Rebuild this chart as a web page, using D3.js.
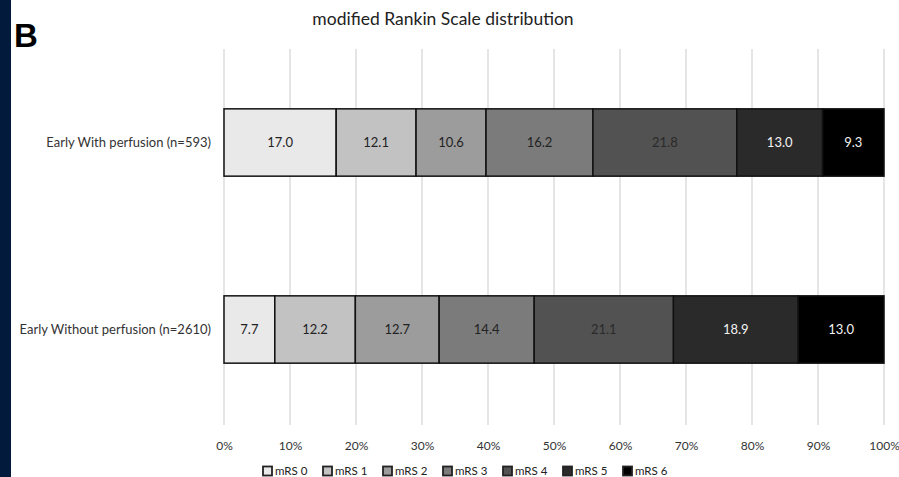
<!DOCTYPE html>
<html><head><meta charset="utf-8">
<script src="https://cdn.jsdelivr.net/npm/d3@7/dist/d3.min.js"></script>
<style>body{margin:0;background:#fff;} svg{display:block;font-family:Lato,"Open Sans",sans-serif;}</style>
</head><body><svg id="c" width="899" height="477"></svg>
<script>
const categories = ["Early With perfusion (n=593)", "Early Without perfusion (n=2610)"];
const seriesNames = ["mRS 0","mRS 1","mRS 2","mRS 3","mRS 4","mRS 5","mRS 6"];
const withPerfusion = [17.0, 12.1, 10.6, 16.2, 21.8, 13.0, 9.3];
const withoutPerfusion = [7.7, 12.2, 12.7, 14.4, 21.1, 18.9, 13.0];
const tickValues = [0,10,20,30,40,50,60,70,80,90,100];
const fills = ["#e9e9e9","#c2c2c2","#9c9c9c","#7b7b7b","#525252","#2a2a2a","#000000"];
const labelColors = ["#222","#222","#222","#222","#2a2a2a","#f2f2f2","#f2f2f2"];

const rows = [withPerfusion, withoutPerfusion];
const svg = d3.select("#c");
svg.append("rect").attr("x",0).attr("y",0).attr("width",11).attr("height",477).attr("fill","#021a3c");
svg.append("text").attr("x",14).attr("y",47).attr("font-family","Liberation Sans, Arial, sans-serif")
  .attr("font-weight","bold").attr("font-size",33).attr("fill","#000").text("B");
svg.append("text").attr("x",443).attr("y",25).attr("text-anchor","middle").attr("font-size",17.5)
  .attr("fill","#222").text("modified Rankin Scale distribution");

const x = d3.scaleLinear().domain([0,100]).range([224,884]);
const y = d3.scaleBand().domain(categories).range([49,423]).paddingInner(0.64).paddingOuter(0.32);

// grid
svg.append("g").selectAll("line").data(tickValues).join("line")
  .attr("x1",d=>x(d)).attr("x2",d=>x(d)).attr("y1",49).attr("y2",425)
  .attr("stroke","#d4d4d4").attr("stroke-width",1.2);

// bars
rows.forEach((vals,ri)=>{
  let acc=0;
  const segs = vals.map((v,i)=>{const s={i,v,x0:acc,x1:acc+v}; acc+=v; return s;});
  const g = svg.append("g");
  const yy = y(categories[ri]), h = y.bandwidth();
  g.selectAll("rect").data(segs).join("rect")
    .attr("x",d=>x(d.x0)).attr("width",d=>x(d.x1)-x(d.x0))
    .attr("y",yy).attr("height",h).attr("fill",d=>fills[d.i])
    .attr("stroke","#111").attr("stroke-width",1.5);
  g.selectAll("text").data(segs).join("text")
    .attr("x",d=>(x(d.x0)+x(d.x1))/2).attr("y",yy+h/2).attr("dy","0.35em")
    .attr("text-anchor","middle").attr("font-size",13).attr("fill",d=>labelColors[d.i])
    .text(d=>d.v.toFixed(1));
  svg.append("text").attr("x",211).attr("y",yy+h/2).attr("dy","0.35em").attr("text-anchor","end")
    .attr("font-size",13).attr("fill","#333").text(categories[ri]);
});

// axis labels
const ax = svg.append("g").attr("transform","translate(0,425)")
  .call(d3.axisBottom(x).tickValues(tickValues).tickFormat(d=>d+"%").tickSize(0).tickPadding(16));
ax.select(".domain").remove();
ax.selectAll("text").attr("font-family","Lato,'Open Sans',sans-serif").attr("font-size",12).attr("fill","#333");

// legend
const lg = svg.append("g");
seriesNames.forEach((s,i)=>{
  const lx = 263 + i*60;
  lg.append("rect").attr("x",lx).attr("y",466.5).attr("width",9).attr("height",9)
    .attr("fill",fills[i]).attr("stroke","#222").attr("stroke-width",1.8);
  lg.append("text").attr("x",lx+12).attr("y",471).attr("dy","0.35em").attr("font-size",11.5)
    .attr("fill","#222").text(s);
});
</script></body></html>
